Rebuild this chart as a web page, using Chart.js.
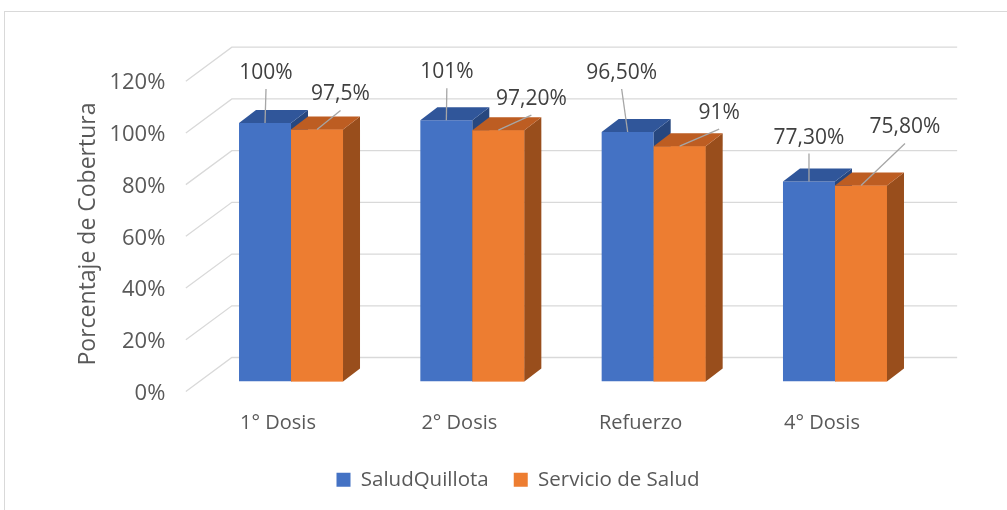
<!DOCTYPE html>
<html><head><meta charset="utf-8">
<script src="https://cdn.jsdelivr.net/npm/chart.js@4.4.1/dist/chart.umd.min.js"></script>
<style>html,body{margin:0;padding:0;background:#fff;}</style>
</head><body>
<canvas id="c" width="1007" height="510"></canvas>
<script>
// ---- data ----
const categories = ['1° Dosis', '2° Dosis', 'Refuerzo', '4° Dosis'];
const seriesNames = ['SaludQuillota', 'Servicio de Salud'];
const saludQuillota = [100, 101, 96.5, 77.3];
const servicioSalud = [97.5, 97.2, 91, 75.8];
const saludLabels = ['100%', '101%', '96,50%', '77,30%'];
const servicioLabels = ['97,5%', '97,20%', '91%', '75,80%'];
const yTicks = [0, 20, 40, 60, 80, 100, 120];
const axisTitle = 'Porcentaje de Cobertura';

// ---- style ----
const FONT = '"Open Sans", "Noto Sans", sans-serif';
const DX = 17, DY = -13;           // oblique depth of the bars
const colors = [
  {front: '#4472C4', top: '#30569A', side: '#27477F'},
  {front: '#ED7D31', top: '#BD5D22', side: '#994E1C'}
];
// label centre offsets from the bar front-top centre
const labelOffsets = [
  [[1, -50], [0.5, -48], [-6, -59], [0, -44]],
  [[23.5, -35], [33, -31], [39.5, -33], [44, -58]]
];
const labelTexts = [saludLabels, servicioLabels];

const threeD = {
  id: 'threeD',
  beforeDatasetsDraw(chart) {
    const ctx = chart.ctx, y = chart.scales.y, ca = chart.chartArea;
    ctx.save();
    ctx.strokeStyle = '#d9d9d9';
    ctx.lineWidth = 1;
    ctx.strokeRect(4.5, 11.5, 1300, 800);
    ctx.lineWidth = 1.3;
    const fx = ca.left - 14.5, bx = ca.left + 31.5, rx = ca.right + 31.5;
    yTicks.forEach(v => {
      const py = y.getPixelForValue(v);
      ctx.beginPath();
      ctx.moveTo(fx, py + 10);
      ctx.lineTo(bx, py - 24);
      ctx.lineTo(rx, py - 24);
      ctx.stroke();
    });
    ctx.restore();
  },
  afterDatasetsDraw(chart) {
    const ctx = chart.ctx;
    const metas = [chart.getDatasetMeta(0), chart.getDatasetMeta(1)];
    ctx.save();
    for (let i = 0; i < categories.length; i++) {
      metas.forEach((m, di) => {
        const b = m.data[i];
        const l = b.x - b.width / 2, r = b.x + b.width / 2, t = b.y, bs = b.base;
        const c = colors[di];
        if (di > 0) { ctx.fillStyle = c.front; ctx.fillRect(l, t, r - l, bs - t); }
        ctx.fillStyle = c.side;
        ctx.beginPath();
        ctx.moveTo(r, t); ctx.lineTo(r + DX, t + DY); ctx.lineTo(r + DX, bs + DY); ctx.lineTo(r, bs);
        ctx.closePath(); ctx.fill();
        ctx.fillStyle = c.top;
        ctx.beginPath();
        ctx.moveTo(l, t); ctx.lineTo(l + DX, t + DY); ctx.lineTo(r + DX, t + DY); ctx.lineTo(r, t);
        ctx.closePath(); ctx.fill();
      });
    }
    // data labels with leader lines
    ctx.font = '21px ' + FONT;
    ctx.textAlign = 'center';
    ctx.textBaseline = 'middle';
    metas.forEach((m, di) => {
      m.data.forEach((b, i) => {
        const ax = b.x, ay = b.y;
        const lx = ax + labelOffsets[di][i][0], ly = ay + labelOffsets[di][i][1];
        ctx.strokeStyle = '#a6a6a6';
        ctx.lineWidth = 1.3;
        ctx.beginPath();
        ctx.moveTo(lx, ly + 16);
        ctx.lineTo(ax, ay);
        ctx.stroke();
        ctx.fillStyle = '#404040';
        ctx.fillText(labelTexts[di][i], lx, ly);
      });
    });
    // axis title
    ctx.font = '23px ' + FONT;
    ctx.fillStyle = '#595959';
    ctx.translate(88, 234);
    ctx.rotate(-Math.PI / 2);
    ctx.fillText(axisTitle, 0, 0);
    ctx.restore();
  }
};

new Chart(document.getElementById('c'), {
  type: 'bar',
  data: {
    labels: categories,
    datasets: [
      {label: seriesNames[0], data: saludQuillota, backgroundColor: colors[0].front, borderWidth: 0,
       barPercentage: 1, categoryPercentage: 0.5736},
      {label: seriesNames[1], data: servicioSalud, backgroundColor: colors[1].front, borderWidth: 0,
       barPercentage: 1, categoryPercentage: 0.5736}
    ]
  },
  options: {
    responsive: false, animation: false, devicePixelRatio: 1,
    layout: {padding: {left: 110.35, right: 81.35, top: 71.2, bottom: 10}},
    plugins: {
      legend: {position: 'bottom',
        labels: {boxWidth: 14, boxHeight: 14, padding: 25, color: '#595959', font: {size: 20.5, family: FONT}}},
      tooltip: {enabled: false}
    },
    scales: {
      x: {grid: {display: false, drawTicks: false}, border: {display: false},
          ticks: {labelOffset: -13, padding: 30, color: '#595959', font: {size: 20, family: FONT}},
          afterFit(s) { s.height = 63; }},
      y: {min: 0, max: 120, grid: {display: false, drawTicks: false}, border: {display: false},
          afterBuildTicks(s) { s.ticks = yTicks.map(v => ({value: v})); },
          ticks: {labelOffset: 12, padding: 35, color: '#595959', font: {size: 22, family: FONT},
                  callback: v => v + '%'},
          afterFit(s) { s.width = 90; }}
    }
  },
  plugins: [threeD]
});
</script>
</body></html>
